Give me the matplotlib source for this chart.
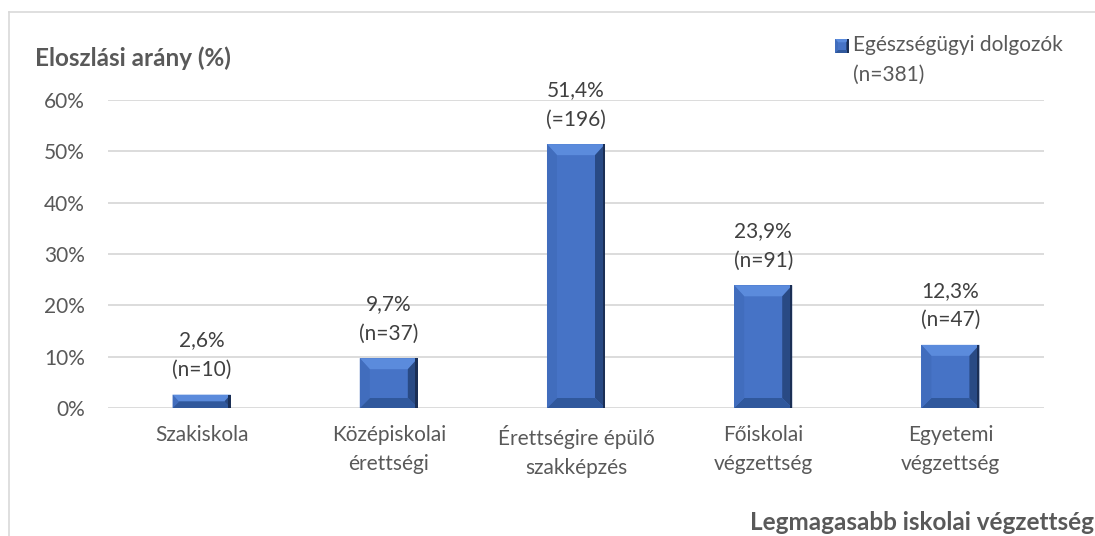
import matplotlib
matplotlib.use("Agg")
import matplotlib.pyplot as plt
from matplotlib.patches import Polygon, Rectangle
from matplotlib.transforms import IdentityTransform

categories = ["Szakiskola", "Középiskolai\nérettségi", "Érettségire épülő\nszakképzés",
              "Főiskolai\nvégzettség", "Egyetemi\nvégzettség"]
values = [2.6, 9.7, 51.4, 23.9, 12.3]
counts = ["(n=10)", "(n=37)", "(=196)", "(n=91)", "(n=47)"]
yticks = [0, 10, 20, 30, 40, 50, 60]
series_name = "Egészségügyi dolgozók\n(n=381)"

FONT = "Lato"
plt.rcParams["font.family"] = [FONT, "DejaVu Sans"]
FS = 15
FSB = 17.5
TXT = "#595959"

W, H = 1095, 536
DPI = 100
fig = plt.figure(figsize=(W / DPI, H / DPI), dpi=DPI)
fig.patch.set_facecolor("white")

# outer chart border (light gray), extending past right/bottom edges
fig.add_artist(plt.Line2D([9 / W, 1.2], [1 - 12 / H, 1 - 12 / H], color="#d9d9d9", lw=1.2,
                          transform=fig.transFigure))
fig.add_artist(plt.Line2D([9 / W, 9 / W], [1 - 12 / H, -0.2], color="#d9d9d9", lw=1.2,
                          transform=fig.transFigure))

left, right, top, bottom = 108, 1044, 100, 408
ax = fig.add_axes([left / W, 1 - bottom / H, (right - left) / W, (bottom - top) / H])
ax.set_xlim(-0.5, len(categories) - 0.5)
ax.set_ylim(0, 60)
for s in ax.spines.values():
    s.set_visible(False)
ax.set_yticks(yticks)
ax.set_yticklabels([f"{t}%" for t in yticks])
ax.yaxis.grid(True, color="#d9d9d9", lw=1.3)
ax.set_axisbelow(True)
ax.tick_params(axis="both", length=0, labelsize=FS, labelcolor=TXT)
ax.tick_params(axis="y", pad=16.5)
ax.tick_params(axis="x", pad=12)
ax.set_xticks(range(len(categories)))
ax.set_xticklabels(categories, linespacing=1.6)

MAIN = "#4673c6"
bars = ax.bar(range(len(categories)), values, width=0.31, color=MAIN, zorder=2)

fig.canvas.draw()

def bevel(x0, y0, x1, y1, b=10, zorder=3, axes=None):
    # display coords: y0 bottom, y1 top
    bb = min(b, (x1 - x0) / 2, (y1 - y0) / 2)
    polys = [
        ([(x0, y1), (x1, y1), (x1 - bb, y1 - bb * 1.1), (x0 + bb, y1 - bb * 1.1)], "#5b8bdc"),  # top
        ([(x1, y1), (x1, y0), (x1 - bb, y0 + bb), (x1 - bb, y1 - bb * 1.1)], "#294a84"),       # right
        ([(x0, y0), (x1, y0), (x1 - bb, y0 + bb), (x0 + bb, y0 + bb)], "#30589c"),             # bottom
        ([(x0, y0), (x0, y1), (x0 + bb, y1 - bb * 1.1), (x0 + bb, y0 + bb)], "#416dbd"),       # left
    ]
    for pts, c in polys:
        p = Polygon(pts, closed=True, facecolor=c, edgecolor="none",
                    transform=IdentityTransform(), zorder=zorder, clip_on=False)
        (axes.add_artist(p) if axes is not None else fig.add_artist(p))
    # dark outer edge on the right
    edge = Polygon([(x1 - 2.5, y0), (x1, y0), (x1, y1), (x1 - 2.5, y1)], closed=True,
                   facecolor="#1b2f55", edgecolor="none", transform=IdentityTransform(),
                   zorder=zorder + 0.1, clip_on=False)
    (axes.add_artist(edge) if axes is not None else fig.add_artist(edge))

for rect in bars:
    x0, y0 = ax.transData.transform((rect.get_x(), 0))
    x1, y1 = ax.transData.transform((rect.get_x() + rect.get_width(), rect.get_height()))
    bevel(x0, y0, x1, y1, b=10, axes=ax)

for i, (v, c) in enumerate(zip(values, counts)):
    lbl = f"{v:.1f}%".replace(".", ",")
    ax.annotate(f"{lbl}\n{c}", (i, v), xytext=(0, 10.5), textcoords="offset points",
                ha="center", va="bottom", fontsize=FS, color="#404040", linespacing=1.6)

# axis titles
fig.text(35 / W, 1 - 58 / H, "Eloszlási arány (%)", fontsize=FSB, fontweight="bold",
         color=TXT, ha="left", va="center")
fig.text(750 / W, 1 - 522 / H, "Legmagasabb iskolai végzettség", fontsize=FSB,
         fontweight="bold", color=TXT, ha="left", va="center")

# legend
lx0, ly_top = 835, 39
lx1, ly_bot = 849, 53
fig.add_artist(Rectangle((lx0, H - ly_bot), lx1 - lx0, ly_bot - ly_top, facecolor=MAIN,
                         edgecolor="none", transform=IdentityTransform(), zorder=3))
bevel(lx0, H - ly_bot, lx1, H - ly_top, b=3)
fig.text(853 / W, 1 - 60 / H, series_name, fontsize=FS, color=TXT, ha="left",
         va="center", linespacing=1.6)

fig.savefig("out.png", dpi=DPI, facecolor="white")
